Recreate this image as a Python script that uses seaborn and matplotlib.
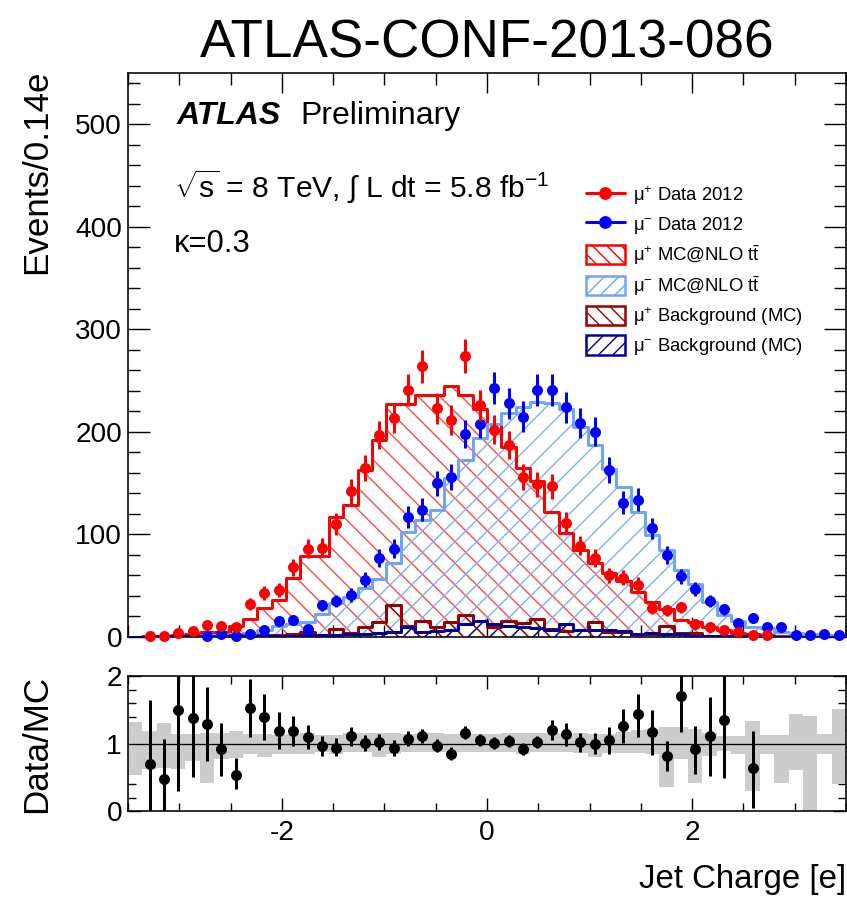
import numpy as np
import pandas as pd
import matplotlib
matplotlib.use("Agg")
import matplotlib.pyplot as plt
from matplotlib.lines import Line2D
from matplotlib.patches import Patch
from matplotlib.ticker import MultipleLocator, FixedLocator
import seaborn as sns

nan = np.nan

# ---------------- data ----------------
x_low, x_high, n_bins = -3.5, 3.5, 50

mu_plus_data = [nan, 1, 1, 4, 6, 12, 11, 10, 32, 43,
                46, 68, 86, 87, 110, 142, 165, 197, 214, 241,
                264, 223, 212, 274, 226, 202, 187, 156, 149, 147,
                111, 89, 77, 60, 58, 51, 28, 26, 29, 13,
                10, 6.5, 5, 1.5, 1.5, nan, nan, nan, nan, nan]
mu_minus_data = [nan, nan, nan, nan, nan, 0.5, 3, 1, 3, 7,
                 16, 17, 8, 31, 35, 41, 56, 77, 86, 117,
                 124, 150, 156, 198, 208, 243, 228, 215, 241, 241,
                 224, 209, 200, 163, 131, 134, 106, 80, 59, 47,
                 35, 27, 14, 19, 10, 10, 1.5, 1.5, 3, 2]
mu_plus_ttbar = [0.3, 0.5, 1, 2, 3, 5, 5, 11, 18, 28,
                 36, 58, 79, 79, 117, 129, 163, 192, 227, 227,
                 236, 236, 245, 236, 222, 208, 185, 165, 152, 122,
                 101, 85, 72, 62, 55, 44, 34, 27, 17, 15,
                 10, 6.5, 4, 2.5, 1.5, 1, 0.8, 0.5, 0.3, 0.2]
mu_minus_ttbar = [0, 0.3, 0.5, 0.5, 1, 1, 2, 2.5, 3.5, 6.5,
                  11, 13, 15, 22, 33, 39, 48, 57, 72, 102,
                  114, 124, 155, 173, 194, 208, 218, 224, 229, 228,
                  222, 205, 187, 164, 146, 122, 99, 85, 65, 52,
                  34, 21, 16, 10, 9, 5, 4, 3, 2, 1.5]
mu_plus_bkg = [0, 0, 0.5, 0.5, 1, 1, 1, 2, 1, 2,
               1.5, 3, 5, 2, 8, 3.5, 10, 15, 31, 11,
               16, 10, 15, 21, 16, 10, 16, 14, 18, 8,
               5.5, 6.5, 15, 5, 5, 2, 2.5, 11, 4, 4,
               1, 1, 0.5, 0.5, 0.5, 0.3, 0.2, 0.2, 0.2, 0.2]
mu_minus_bkg = [0.3, 0.3, 0.5, 0.5, 0.5, 0.5, 1, 1, 1, 1,
                1, 1, 2, 2, 2, 3, 3, 4, 5, 10,
                5, 6, 7, 13, 16, 13, 11, 10, 9, 7,
                13, 7, 6.5, 7, 6, 3, 4, 3, 2.5, 1,
                1, 1, 0.5, 0.5, 0.5, 0.3, 0.3, 0.2, 0.2, 0.2]

ratio_value = [nan, 0.70, 0.47, 1.50, 1.38, 1.29, 0.92, 0.54, 1.52, 1.39,
               1.19, 1.19, 1.09, 0.97, 0.93, 1.11, 1.01, 1.02, 0.93, 1.07,
               1.11, 0.97, 0.85, 1.16, 1.05, 1.01, 1.04, 0.92, 1.02, 1.20,
               1.14, 1.02, 1.00, 1.05, 1.26, 1.43, 1.17, 0.82, 1.71, 0.92,
               1.11, 1.35, nan, 0.63, nan, nan, nan, nan, nan, nan]
ratio_low = [nan, -0.1, -0.1, 0.30, 0.50, 0.74, 0.52, 0.32, 1.10, 1.05,
             0.92, 0.97, 0.92, 0.82, 0.81, 0.97, 0.89, 0.90, 0.82, 0.96,
             1.01, 0.87, 0.76, 1.06, 0.96, 0.92, 0.95, 0.83, 0.93, 1.05,
             0.97, 0.88, 0.85, 0.84, 1.01, 1.10, 0.83, 0.59, 1.17, 0.55,
             0.52, 0.49, nan, 0.05, nan, nan, nan, nan, nan, nan]
ratio_high = [nan, 1.64, 1.06, 2.2, 2.2, 1.83, 1.31, 0.78, 1.96, 1.73,
              1.46, 1.41, 1.27, 1.11, 1.08, 1.25, 1.13, 1.14, 1.05, 1.18,
              1.21, 1.07, 0.95, 1.26, 1.14, 1.10, 1.13, 1.01, 1.11, 1.35,
              1.30, 1.16, 1.15, 1.25, 1.51, 1.73, 1.49, 1.04, 2.2, 1.26,
              1.69, 2.2, nan, 1.19, nan, nan, nan, nan, nan, nan]
band_high = [1.32, 1.18, 1.30, 1.14, 1.14, 1.16, 1.16, 1.19, 1.14, 1.14,
             1.13, 1.14, 1.15, 1.13, 1.13, 1.15, 1.15, 1.15, 1.15, 1.14,
             1.15, 1.15, 1.14, 1.14, 1.14, 1.14, 1.15, 1.15, 1.15, 1.15,
             1.14, 1.15, 1.14, 1.14, 1.17, 1.20, 1.22, 1.24, 1.24, 1.21,
             1.16, 1.11, 1.11, 1.34, 1.12, 1.12, 1.44, 1.40, 1.14, 1.51]
band_low = [0.54, 0.62, 0.64, 0.62, 0.74, 0.42, 0.77, 0.79, 0.85, 0.80,
            0.85, 0.85, 0.85, 0.87, 0.85, 0.87, 0.87, 0.80, 0.85, 0.88,
            0.88, 0.87, 0.88, 0.88, 0.88, 0.88, 0.88, 0.85, 0.87, 0.88,
            0.87, 0.86, 0.80, 0.86, 0.86, 0.86, 0.84, 0.35, 0.77, 0.42,
            0.82, 0.89, 0.84, 0.30, 0.84, 0.41, 0.60, 0.0, 0.84, 0.40]

main_yticks = [0, 100, 200, 300, 400, 500]
ratio_yticks = [0, 1, 2]
xticks = [-2, 0, 2]

legend_labels = [r"μ$^{+}$ Data 2012", r"μ$^{-}$ Data 2012",
                 r"μ$^{+}$ MC@NLO t$\bar{\mathrm{t}}$", r"μ$^{-}$ MC@NLO t$\bar{\mathrm{t}}$",
                 r"μ$^{+}$ Background (MC)", r"μ$^{-}$ Background (MC)"]

# ---------------- style ----------------
DPI = 130
PT = 72.0 / DPI   # points per pixel

sns.set_theme(style="ticks")
plt.rcParams["font.family"] = ["Liberation Sans", "DejaVu Sans"]
plt.rcParams["mathtext.fontset"] = "custom"
plt.rcParams["mathtext.rm"] = "Liberation Sans"
plt.rcParams["mathtext.it"] = "Liberation Sans:italic"
plt.rcParams["mathtext.bf"] = "Liberation Sans:bold"
plt.rcParams["axes.unicode_minus"] = False
plt.rcParams["hatch.linewidth"] = 1.4 * PT
plt.rcParams["axes.linewidth"] = 1.6 * PT
for key in ["text.color", "axes.labelcolor", "xtick.color", "ytick.color",
            "xtick.labelcolor", "ytick.labelcolor", "axes.edgecolor"]:
    plt.rcParams[key] = "black"

RED = "#ff0000"
RED_HATCH = "#ff4a4a"
BLUE = "#0000ff"
LBLUE = "#6ea6f7"
LBLUE_HATCH = "#7fb0f5"
DRED = "#990000"
DBLUE = "#000099"

edges = np.linspace(x_low, x_high, n_bins + 1)
edge_list = [float(e) for e in edges]
centers = 0.5 * (edges[1:] + edges[:-1])

df = pd.DataFrame({
    "center": centers,
    "mu_plus_data": mu_plus_data, "mu_minus_data": mu_minus_data,
    "mu_plus_ttbar": mu_plus_ttbar, "mu_minus_ttbar": mu_minus_ttbar,
    "mu_plus_bkg": mu_plus_bkg, "mu_minus_bkg": mu_minus_bkg,
    "ratio": ratio_value, "ratio_low": ratio_low, "ratio_high": ratio_high,
    "band_low": band_low, "band_high": band_high,
})

fig = plt.figure(figsize=(847 / DPI, 900 / DPI), dpi=DPI)
ax = fig.add_axes([128 / 847, 1 - 637 / 900, 718 / 847, 564 / 900])
rax = fig.add_axes([128 / 847, 1 - 811 / 900, 718 / 847, 135 / 900], sharex=ax)


def hatch_fill(a, col, color, hatch, z):
    vals = df[col].to_numpy()
    a.fill_between(edges, np.r_[vals, vals[-1]], step="post", facecolor="none",
                   edgecolor=color, linewidth=0, hatch=hatch, zorder=z)


def outline(a, col, color, lw, z):
    sns.histplot(data=df, x="center", weights=col, bins=edge_list, element="step",
                 fill=False, color=color, linewidth=lw * PT, ax=a, zorder=z)


# MC histograms
hatch_fill(ax, "mu_plus_ttbar", RED_HATCH, "\\\\", 1.0)
hatch_fill(ax, "mu_minus_ttbar", LBLUE_HATCH, "//", 1.1)
outline(ax, "mu_plus_ttbar", RED, 3.0, 2.0)
outline(ax, "mu_minus_ttbar", LBLUE, 3.0, 2.1)
hatch_fill(ax, "mu_plus_bkg", DRED, "\\\\", 2.4)
hatch_fill(ax, "mu_minus_bkg", DBLUE, "//", 2.5)
outline(ax, "mu_plus_bkg", DRED, 3.0, 2.6)
outline(ax, "mu_minus_bkg", DBLUE, 3.0, 2.7)

# data
for col, color, z in [("mu_minus_data", BLUE, 3.0), ("mu_plus_data", RED, 3.5)]:
    vals = df[col].to_numpy()
    ax.errorbar(df["center"], vals, yerr=np.sqrt(vals), fmt="none", ecolor=color,
                elinewidth=3.0 * PT, capsize=0, zorder=z)
    sns.scatterplot(data=df, x="center", y=col, color=color, s=(11 * PT) ** 2,
                    linewidth=0, marker="o", ax=ax, zorder=z + 0.1, clip_on=False,
                    legend=False)

ax.set_xlim(x_low, x_high)
ax.set_ylim(0, 550)
ax.yaxis.set_major_locator(FixedLocator(main_yticks))
ax.yaxis.set_minor_locator(MultipleLocator(20))
ax.xaxis.set_major_locator(FixedLocator(xticks))
ax.xaxis.set_minor_locator(MultipleLocator(0.5))
ax.tick_params(which="both", direction="in", top=True, right=True,
               width=1.4 * PT, color="black", labelcolor="black", labelbottom=False,
               labelsize=28 * PT, pad=6 * PT)
ax.tick_params(axis="y", which="major", length=22 * PT)
ax.tick_params(axis="y", which="minor", length=12 * PT)
ax.tick_params(axis="x", which="major", length=20 * PT)
ax.tick_params(axis="x", which="minor", length=12 * PT)
ax.set_xlabel("")
ax.set_ylabel("Events/0.14e", fontsize=35 * PT, loc="top", color="black")
ax.yaxis.set_label_coords((53 - 128) / 718, 1.006)
ax.set_title("ATLAS-CONF-2013-086", fontsize=53 * PT, pad=16 * PT, color="black")


# annotations
def ax_xy(px, py):
    return (px - 128) / 718, (637 - py) / 564


x0, y0 = ax_xy(177, 124)
ax.text(x0, y0, "ATLAS", transform=ax.transAxes, fontsize=32 * PT,
        fontweight="bold", fontstyle="italic", va="baseline")
x1, _ = ax_xy(300, 124)
ax.text(x1, y0, "Preliminary", transform=ax.transAxes, fontsize=32 * PT, va="baseline")
x2, y2 = ax_xy(174, 197)
ax.text(x2, y2, r"$\sqrt{\mathrm{s}}$ = 8 TeV, $\int$ L dt = 5.8 fb$^{\mathrm{-1}}$",
        transform=ax.transAxes, fontsize=30 * PT, va="baseline")
x3, y3 = ax_xy(174, 252)
ax.text(x3, y3, "κ=0.3", transform=ax.transAxes, fontsize=31 * PT, va="baseline")

# legend
handles = [
    Line2D([], [], color=RED, marker="o", markersize=11 * PT, linewidth=3 * PT),
    Line2D([], [], color=BLUE, marker="o", markersize=11 * PT, linewidth=3 * PT),
    Patch(facecolor="white", edgecolor=RED, hatch="\\\\\\", linewidth=2.5 * PT),
    Patch(facecolor="white", edgecolor=LBLUE, hatch="///", linewidth=2.5 * PT),
    Patch(facecolor="white", edgecolor=DRED, hatch="\\\\\\", linewidth=2.5 * PT),
    Patch(facecolor="white", edgecolor=DBLUE, hatch="///", linewidth=2.5 * PT),
]
lx, ly = ax_xy(586, 184)
leg = ax.legend(handles, legend_labels, loc="upper left", bbox_to_anchor=(lx, ly),
                frameon=False, fontsize=18.5 * PT, borderpad=0, borderaxespad=0,
                handlelength=2.1, handleheight=1.24, handletextpad=0.45,
                labelspacing=0.4)
for t in leg.get_texts():
    t.set_color("black")

# ---------------- ratio panel ----------------
rax.fill_between(edges, np.r_[band_low, band_low[-1]], np.r_[band_high, band_high[-1]],
                 step="post", color="#cccccc", linewidth=0, zorder=1)
rax.axhline(1.0, color="black", linewidth=1.3 * PT, zorder=2)
rv = df["ratio"].to_numpy()
yerr = np.vstack([rv - df["ratio_low"].to_numpy(), df["ratio_high"].to_numpy() - rv])
rax.errorbar(df["center"], rv, yerr=yerr, fmt="none", ecolor="black",
             elinewidth=3.0 * PT, capsize=0, zorder=3)
sns.scatterplot(data=df, x="center", y="ratio", color="black", s=(11 * PT) ** 2,
                linewidth=0, marker="o", ax=rax, zorder=4, legend=False)
rax.set_xlim(x_low, x_high)
rax.set_ylim(0, 2)
rax.yaxis.set_major_locator(FixedLocator(ratio_yticks))
rax.yaxis.set_minor_locator(MultipleLocator(0.2))
rax.xaxis.set_major_locator(FixedLocator(xticks))
rax.xaxis.set_minor_locator(MultipleLocator(0.5))
rax.tick_params(which="both", direction="in", top=True, right=True,
                width=1.4 * PT, color="black", labelcolor="black", labelsize=28 * PT)
rax.tick_params(which="major", length=13 * PT)
rax.tick_params(which="minor", length=8 * PT)
rax.tick_params(axis="x", pad=9 * PT)
rax.tick_params(axis="y", pad=6 * PT)
rax.set_ylabel("Data/MC", fontsize=35 * PT, color="black")
rax.yaxis.set_label_coords((53 - 128) / 718, 0.5)
rax.set_xlabel("Jet Charge [e]", fontsize=33 * PT, loc="right", color="black")
rax.xaxis.set_label_coords(1.0, -(864 - 811) / 135)

for a in (ax, rax):
    for s in a.spines.values():
        s.set_visible(True)
        s.set_color("black")

fig.savefig("out.png", dpi=DPI)
